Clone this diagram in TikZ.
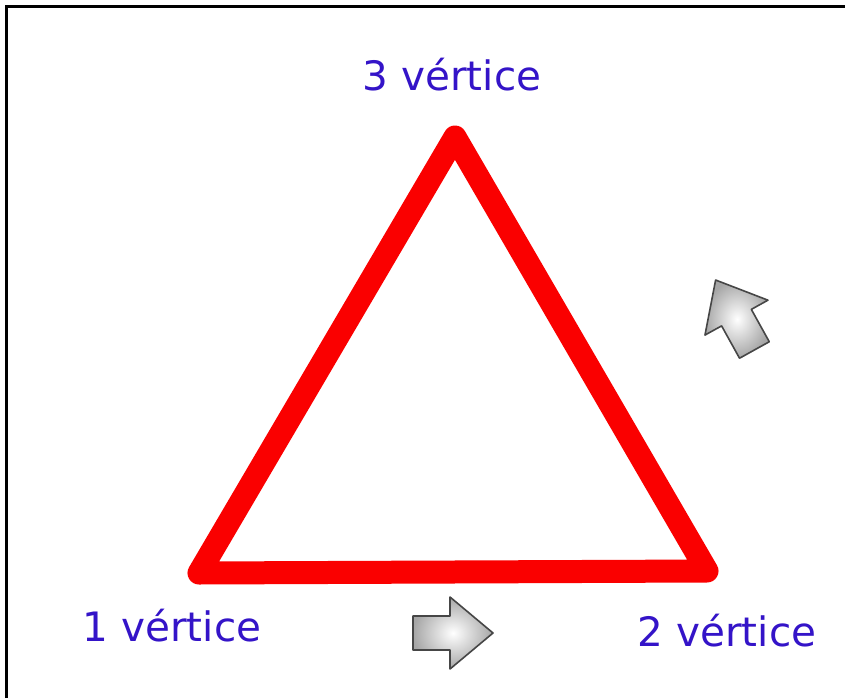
\documentclass[tikz,border=0pt]{standalone}
\usepackage{fontspec}
\setmainfont{DejaVu Sans}
\definecolor{lbl}{RGB}{52,20,200}
\definecolor{tri}{RGB}{250,0,0}
\tikzset{
  lbltext/.style={text=lbl, font=\fontsize{40.5}{44}\selectfont, inner sep=0pt},
  triline/.style={draw=tri, line width=23pt, line join=round, line cap=round},
  frameline/.style={draw=black, line width=3pt},
  pics/blockarrow/.style={code={
    \draw[draw=gray!55!black, line width=1.6pt, line join=round,
          inner color=white, outer color=gray!70]
      (-40,-17) -- (-3,-17) -- (-3,-36) -- (40,0) -- (-3,36) -- (-3,17) -- (-40,17) -- cycle;
  }}
}
\begin{document}
\begin{tikzpicture}[x=1pt,y=-1pt]
\useasboundingbox (0,0) rectangle (845,698);
\fill[white] (0,0) rectangle (845,698);
% frame
\coordinate (fl) at (6,698);
\coordinate (ftl) at (6,7);
\coordinate (ftr) at (845,7);
\draw[frameline] (fl) -- (ftl) -- (ftr);
% triangle
\coordinate (v1) at (199,573);
\coordinate (v2) at (707,571);
\coordinate (v3) at (455,137);
\draw[triline] (v1) -- (v2) -- (v3) -- cycle;
% labels
\node[lbltext] (l3) at (452,75) {3 vértice};
\node[lbltext] (l1) at (172,626) {1 vértice};
\node[lbltext] (l2) at (727,631) {2 vértice};
% arrows
\pic at (453,633) {blockarrow};
\pic[rotate=119] at (735,315) {blockarrow};
\end{tikzpicture}
\end{document}
